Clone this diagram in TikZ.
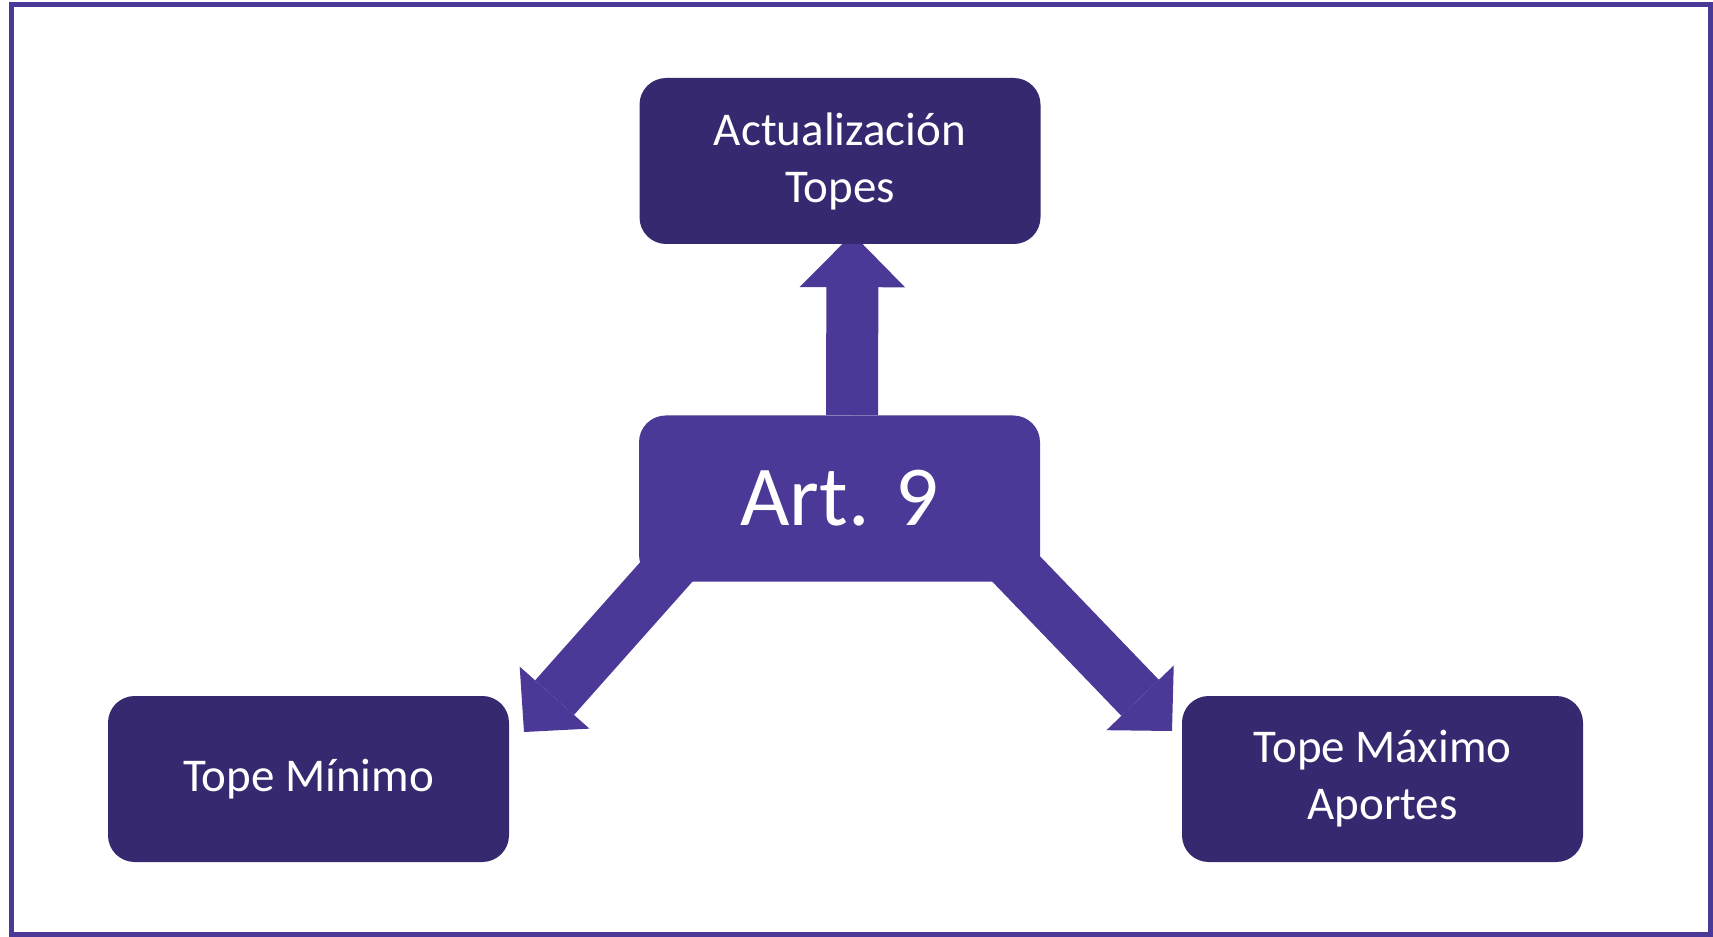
\documentclass[tikz,border=0pt]{standalone}
\usepackage{fontspec}
\setmainfont{Carlito}
\usetikzlibrary{arrows.meta,calc,backgrounds}

\definecolor{topedark}{RGB}{55,41,111}
\definecolor{artpurple}{RGB}{75,56,151}

\tikzset{every picture/.style={line width=0.75pt}}
\tikzset{
  tope/.style={fill=topedark, text=white, rounded corners=20pt, minimum width=300.75pt, minimum height=124.5pt, align=center, inner sep=0pt, font=\fontsize{35.25}{42.75}\selectfont},
  artbox/.style={tope, fill=artpurple, font=\fontsize{64}{76}\selectfont},
  flecha/.style={draw=artpurple, line width=39pt, -{Triangle[length=34.5pt,width=70pt,line width=0pt]}},
}

\begin{document}
\begin{tikzpicture}[x=0.75pt,y=0.75pt,yscale=-1,xscale=1]
	\useasboundingbox (0,0) rectangle (1713,937);
	
	%Frame
	\draw [draw=artpurple, line width=3.75pt] (11,5) rectangle (1710,934);
	
	% Text Node
	\node [artbox] (art9) at (839.5,498.5) {Art. 9};
	% Text Node
	\node [tope] (actual) at (840,161) {Actualización\\Topes};
	% Text Node
	\node [tope] (minimo) at (308.5,779) {Tope Mínimo};
	% Text Node
	\node [tope] (maximo) at (1382.5,779) {Tope Máximo\\Aportes};
	
	\coordinate (tipmin) at (524,732);
	\coordinate (tipmax) at (1172,731);
	
	\begin{scope}[on background layer]
		%Up Arrow
		\draw [flecha, -{Triangle[length=40pt,width=79pt,line width=0pt]}, shorten >=-8pt] ($(art9.north)+(12.5,0)$) -- ($(actual.south)+(12.5,0)$);
		%Left Arrow
		\draw [flecha] ($(art9.center)+(-139.5,35.5)$) -- (tipmin);
		%Right Arrow
		\draw [flecha] ($(art9.center)+(131.5,23.5)$) -- (tipmax);
	\end{scope}
	
\end{tikzpicture}
\end{document}
